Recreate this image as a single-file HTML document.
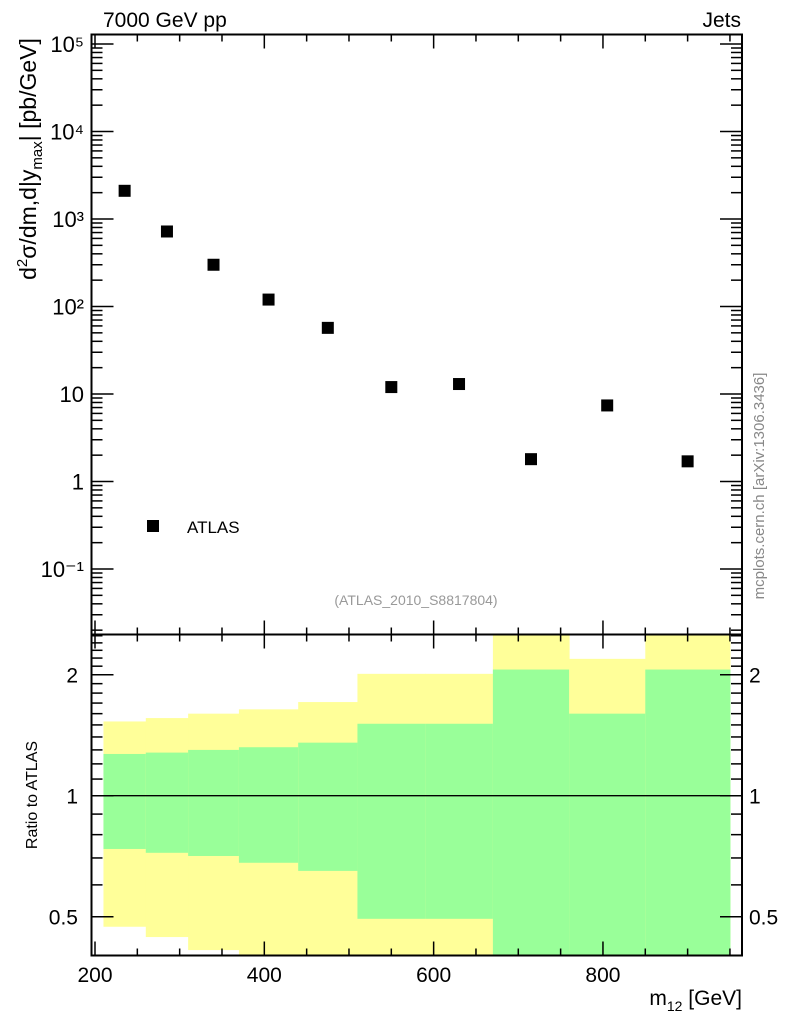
<!DOCTYPE html>
<html><head><meta charset="utf-8">
<style>
html,body{margin:0;padding:0;background:#fff;}
svg{display:block;font-family:"Liberation Sans",sans-serif;}
</style></head>
<body>
<svg id="chart" width="786" height="1024" viewBox="0 0 786 1024" xmlns="http://www.w3.org/2000/svg">
  <text x="103" y="27" font-size="21">7000 GeV pp</text>
  <text x="741" y="27" font-size="21" text-anchor="end">Jets</text>
  <text transform="translate(36,159) rotate(-90)" font-size="23" text-anchor="middle">d<tspan dy="-9" font-size="15">2</tspan><tspan dy="9">σ/dm,d|y</tspan><tspan dy="6" font-size="15">max</tspan><tspan dy="-6">| [pb/GeV]</tspan></text>
  <text transform="translate(37,795) rotate(-90)" font-size="16" text-anchor="middle">Ratio to ATLAS</text>
  <text x="742" y="1005" font-size="21" text-anchor="end">m<tspan dy="6" font-size="14">12</tspan><tspan dy="-6"> [GeV]</tspan></text>
  <text x="416" y="605" font-size="14" fill="#999" text-anchor="middle">(ATLAS_2010_S8817804)</text>
  <text transform="translate(764,486) rotate(-90)" font-size="15" fill="#888" text-anchor="middle">mcplots.cern.ch [arXiv:1306.3436]</text>
  <g id="ratio"></g>
  <g id="main"></g>
  <g id="axes"></g>
</svg>
<script>
const binEdges = [210, 260, 310, 370, 440, 510, 590, 670, 760, 850, 950];
const dataValues = [2100, 720, 300, 120, 57, 12, 13, 1.8, 7.4, 1.7];
const yellowHi = [1.53, 1.56, 1.60, 1.64, 1.71, 2.01, 2.01, 2.7, 2.19, 2.7];
const greenHi = [1.27, 1.28, 1.30, 1.32, 1.355, 1.51, 1.51, 2.06, 1.60, 2.06];
const greenLo = [0.737, 0.721, 0.708, 0.681, 0.65, 0.494, 0.494, 0.3, 0.3, 0.3];
const yellowLo = [0.472, 0.445, 0.413, 0.38, 0.38, 0.38, 0.38, 0.3, 0.41, 0.3];
const xTicks = [200, 400, 600, 800];
const mainYTicks = [-1, 0, 1, 2, 3, 4, 5];
const mainYLabels = ["10⁻¹", "1", "10", "10²", "10³", "10⁴", "10⁵"];
const ratioTicks = [0.5, 1, 2];
const ratioLabels = ["0.5", "1", "2"];

const NS = "http://www.w3.org/2000/svg";
const L = 91.5, R = 742, T = 34.5, MB = 634.5, RB = 955.5;
const X = m => 95 + (m - 200) * 0.8466;
const YM = v => 44 + (5 - Math.log10(v)) * 87.5;
const YR = r => 795.7 - Math.log2(r) * 121;
const clampR = y => Math.max(MB, Math.min(RB, y));
function el(parent, tag, attrs) {
  const e = document.createElementNS(NS, tag);
  for (const k in attrs) e.setAttribute(k, attrs[k]);
  parent.appendChild(e);
  return e;
}
const ratio = document.getElementById('ratio');
const main = document.getElementById('main');
const axes = document.getElementById('axes');

for (let i = 0; i < binEdges.length - 1; i++) {
  const x0 = X(binEdges[i]), x1 = X(binEdges[i + 1]);
  let y0 = clampR(YR(yellowHi[i])), y1 = clampR(YR(yellowLo[i]));
  const yb = el(ratio, 'rect', {x: x0, y: y0, width: x1 - x0 + 0.5, height: y1 - y0, fill: '#ffff99'});
  
  
  y0 = clampR(YR(greenHi[i])); y1 = clampR(YR(greenLo[i]));
  const gb = el(ratio, 'rect', {x: x0, y: y0, width: x1 - x0 + 0.5, height: y1 - y0, fill: '#99ff99'});
  
  
}
const one = el(ratio, 'line', {x1: L, x2: R, y1: YR(1), y2: YR(1), stroke: '#000', 'stroke-width': 1.3});



for (let i = 0; i < dataValues.length; i++) {
  const cx = X((binEdges[i] + binEdges[i + 1]) / 2), cy = YM(dataValues[i]);
  const p = el(main, 'rect', {x: cx - 6, y: cy - 6, width: 12, height: 12, fill: '#000'});
  
  
}
const lm = el(main, 'rect', {x: 147, y: 520, width: 12, height: 12, fill: '#000'});


const lt = el(main, 'text', {x: 187, y: 533, 'font-size': 17});
lt.textContent = 'ATLAS';



[[T, MB], [MB, RB]].forEach((f, k) => {
  const r = el(axes, 'rect', {x: L, y: f[0], width: R - L, height: f[1] - f[0], fill: 'none', stroke: '#000', 'stroke-width': 2});
  
  
});
for (let m = 200; m <= 950; m += 50) {
  const major = m % 200 === 0;
  const len = major ? 14 : 7;
  [T, MB, RB].forEach((y, k) => {
    const dir = k === 0 ? 1 : -1;
    el(axes, 'line', {x1: X(m), x2: X(m), y1: y, y2: y + dir * len, stroke: '#000', 'stroke-width': 1.5});
    if (k === 1) el(axes, 'line', {x1: X(m), x2: X(m), y1: y, y2: y + len, stroke: '#000', 'stroke-width': 1.5});
  });
}
xTicks.forEach(m => {
  const t = el(axes, 'text', {x: X(m), y: 982, 'font-size': 21, 'text-anchor': 'middle'});
  t.textContent = m;
  
  
});
for (let d = -2; d <= 5; d++) {
  for (let j = 1; j <= 9; j++) {
    const y = YM(j * Math.pow(10, d));
    if (y < T || y > MB) continue;
    const len = j === 1 ? 22 : 11;
    el(axes, 'line', {x1: L, x2: L + len, y1: y, y2: y, stroke: '#000', 'stroke-width': 1.5});
    el(axes, 'line', {x1: R, x2: R - len, y1: y, y2: y, stroke: '#000', 'stroke-width': 1.5});
  }
}
mainYTicks.forEach((d, i) => {
  const t = el(axes, 'text', {x: 84, y: YM(Math.pow(10, d)) + 8, 'font-size': 22, 'text-anchor': 'end'});
  t.textContent = mainYLabels[i];
  
  
});
const rMinor = [0.4,0.5,0.6,0.7,0.8,0.9,1,1.1,1.2,1.3,1.4,1.5,1.6,1.7,1.8,1.9,2,2.1,2.2,2.3,2.4,2.5];
rMinor.forEach(r => {
  const y = YR(r); if (y < MB || y > RB) return;
  const len = ratioTicks.includes(r) ? 22 : 11;
  el(axes, 'line', {x1: L, x2: L + len, y1: y, y2: y, stroke: '#000', 'stroke-width': 1.5});
  el(axes, 'line', {x1: R, x2: R - len, y1: y, y2: y, stroke: '#000', 'stroke-width': 1.5});
});
ratioTicks.forEach((r, i) => {
  const a = el(axes, 'text', {x: 78, y: YR(r) + 8, 'font-size': 21, 'text-anchor': 'end'});
  a.textContent = ratioLabels[i];
  
  
  const b = el(axes, 'text', {x: 749, y: YR(r) + 8, 'font-size': 21});
  b.textContent = ratioLabels[i];
  
  
});
</script>
</body></html>
